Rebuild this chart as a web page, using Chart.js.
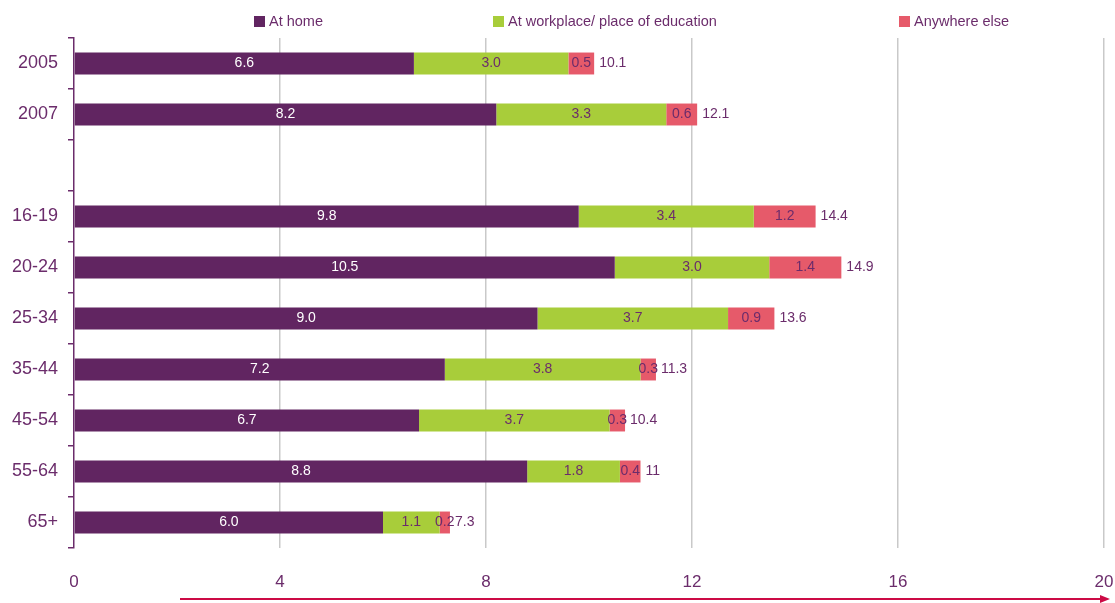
<!DOCTYPE html>
<html>
<head>
<meta charset="utf-8">
<script src="https://cdn.jsdelivr.net/npm/chart.js@4/dist/chart.umd.min.js"></script>
<style>
  html, body { margin: 0; padding: 0; background: #fff; }
  #wrap { width: 1115px; height: 603px; }
</style>
</head>
<body>
<div id="wrap"><canvas id="grafico_barras"></canvas></div>
<script>
var categorias = ["2005", "2007", "", "16-19", "20-24", "25-34", "35-44", "45-54", "55-64", "65+"];
var en_casa = [6.6, 8.2, null, 9.8, 10.5, 9.0, 7.2, 6.7, 8.8, 6.0];
var en_trabajo = [3.0, 3.3, null, 3.4, 3.0, 3.7, 3.8, 3.7, 1.8, 1.1];
var otro_lugar = [0.5, 0.6, null, 1.2, 1.4, 0.9, 0.3, 0.3, 0.4, 0.2];
var totales = ["10.1", "12.1", "", "14.4", "14.9", "13.6", "11.3", "10.4", "11", "7.3"];
var ticks_x = [0, 4, 8, 12, 16, 20];

var morado = "#612561";
var verde = "#a8cd3a";
var rojo = "#e65a6a";
var texto = "#6b2c6b";
var fuente = "'Liberation Sans', Arial, sans-serif";

// etiquetas de valores dentro de las barras y total a la derecha
var etiquetas = {
    id: "etiquetas",
    afterDatasetsDraw: function (chart) {
        var ctx = chart.ctx;
        ctx.save();
        ctx.font = "14px " + fuente;
        ctx.textBaseline = "middle";
        chart.data.datasets.forEach(function (ds, i) {
            var meta = chart.getDatasetMeta(i);
            meta.data.forEach(function (bar, j) {
                if (ds.data[j] == null) return;
                ctx.fillStyle = i === 0 ? "#ffffff" : texto;
                ctx.textAlign = "center";
                ctx.fillText(ds.data[j].toFixed(1), (bar.x + bar.base) / 2, bar.y);
                if (i === chart.data.datasets.length - 1) {
                    ctx.fillStyle = texto;
                    ctx.textAlign = "left";
                    ctx.fillText(totales[j], bar.x + 5, bar.y);
                }
            });
        });
        ctx.restore();
    }
};

// leyenda y flecha inferior
var extras = {
    id: "extras",
    afterDraw: function (chart) {
        var ctx = chart.ctx;
        var area = chart.chartArea;
        ctx.save();
        var posiciones = [180, 419, 825];
        ctx.font = "14.5px " + fuente;
        ctx.textBaseline = "middle";
        ctx.textAlign = "left";
        chart.data.datasets.forEach(function (ds, i) {
            var x = area.left + posiciones[i];
            ctx.fillStyle = ds.backgroundColor;
            ctx.fillRect(x, 16, 11, 11);
            ctx.fillStyle = texto;
            ctx.fillText(ds.label, x + 15, 22);
        });
        // flecha
        var y = 599;
        var x0 = area.left + 106;
        var x1 = area.right + 6;
        ctx.strokeStyle = "#cc0a45";
        ctx.fillStyle = "#cc0a45";
        ctx.lineWidth = 2;
        ctx.beginPath();
        ctx.moveTo(x0, y);
        ctx.lineTo(x1 - 8, y);
        ctx.stroke();
        ctx.beginPath();
        ctx.moveTo(x1, y);
        ctx.lineTo(x1 - 10, y - 4);
        ctx.lineTo(x1 - 10, y + 4);
        ctx.closePath();
        ctx.fill();
        ctx.restore();
    }
};

document.addEventListener('DOMContentLoaded', function () {
    var ctx = document.getElementById("grafico_barras").getContext("2d");
    var myChart = new Chart(ctx, {
        type: "bar",
        data: {
            labels: categorias,
            datasets: [{
                label: "At home",
                data: en_casa,
                backgroundColor: morado
            }, {
                label: "At workplace/ place of education",
                data: en_trabajo,
                backgroundColor: verde
            }, {
                label: "Anywhere else",
                data: otro_lugar,
                backgroundColor: rojo
            }]
        },
        options: {
            indexAxis: "y",
            responsive: true,
            maintainAspectRatio: false,
            animation: false,
            layout: { padding: { top: 38, right: 11, left: 0, bottom: 0 } },
            datasets: { bar: { barPercentage: 0.43, categoryPercentage: 1 } },
            plugins: {
                legend: { display: false },
                tooltip: { enabled: false }
            },
            scales: {
                x: {
                    stacked: true,
                    min: 0,
                    max: 20,
                    afterBuildTicks: function (axis) {
                        axis.ticks = ticks_x.map(function (v) { return { value: v }; });
                    },
                    afterFit: function (axis) {
                        axis.height = 55;
                        axis.paddingLeft = 0;
                        axis.paddingRight = 0;
                    },
                    grid: {
                        color: function (c) { return c.tick && c.tick.value === 0 ? "rgba(0,0,0,0)" : "#c9c9c9"; },
                        lineWidth: 1.5,
                        drawTicks: false
                    },
                    border: { display: false },
                    ticks: {
                        padding: 24,
                        color: texto,
                        font: { family: fuente, size: 17 }
                    }
                },
                y: {
                    stacked: true,
                    afterFit: function (axis) { axis.width = 74; },
                    grid: {
                        offset: true,
                        drawOnChartArea: false,
                        drawTicks: true,
                        tickLength: 6,
                        color: texto,
                        lineWidth: 1.5
                    },
                    border: { display: true, color: texto, width: 1.5 },
                    ticks: {
                        padding: 10,
                        color: texto,
                        font: { family: fuente, size: 18 }
                    }
                }
            }
        },
        plugins: [etiquetas, extras]
    });
});
</script>
</body>
</html>
